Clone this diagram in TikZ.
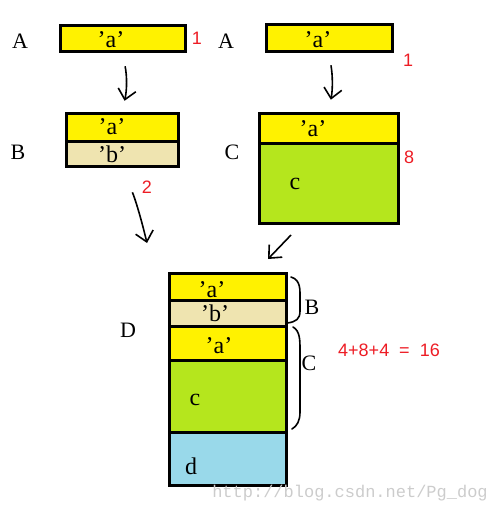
\documentclass[tikz,border=0pt]{standalone}
\usepackage{fontspec}
\setmainfont{Liberation Serif}
\newfontfamily\numfont{Liberation Sans}
\newfontfamily\urlfont{Liberation Mono}
\usetikzlibrary{arrows.meta}

\definecolor{cellyellow}{RGB}{255,242,0}
\definecolor{celltan}{RGB}{239,228,176}
\definecolor{cellgreen}{RGB}{181,230,29}
\definecolor{cellblue}{RGB}{153,217,234}
\definecolor{numred}{RGB}{237,28,36}

\begin{document}
\begin{tikzpicture}[x=0.5pt,y=-0.5pt,
    cell/.style={draw,line width=1.5pt,inner sep=0pt},
    inbox/.style={font=\fontsize{12}{14}\selectfont,inner sep=0pt},
    tag/.style={font=\fontsize{11}{13}\selectfont,inner sep=0pt},
    size/.style={numred,font=\numfont\fontsize{9}{11}\selectfont,inner sep=0pt},
    hand/.style={line width=0.8pt,-{Straight Barb[length=5pt,width=9pt]}},
    brace/.style={line width=0.8pt,line cap=round}]
  \useasboundingbox (0,0) rectangle (496,513);

  % A alone
  \node[tag] (tA1) at (20,41) {A};
  \node[cell,fill=cellyellow,minimum width=62.5pt,minimum height=13pt] (a1) at (122.5,39) {};
  \node[inbox] (ta1) at (111,40) {’a’};
  \node[size] (s1) at (197,38) {1};

  \node[tag] (tA2) at (226,41) {A};
  \node[cell,fill=cellyellow,minimum width=63pt,minimum height=13.5pt] (a2) at (329,38.5) {};
  \node[inbox] (ta2) at (318,40) {’a’};
  \node[size] (s2) at (408,60) {1};

  % B = a + b
  \node[tag] (tB) at (18,152) {B};
  \node[cell,fill=cellyellow,minimum width=56pt,minimum height=14pt] (ba) at (122,128) {};
  \node[cell,fill=celltan,minimum width=56pt,minimum height=12.5pt] (bb) at (122,154.5) {};
  \node[inbox] (tba) at (112,127) {’a’};
  \node[inbox] (tbb) at (112,154) {’b’};
  \node[size] (s3) at (147,187) {2};

  % C = a + c
  \node[tag] (tC) at (232,152) {C};
  \node[cell,fill=cellyellow,minimum width=69.5pt,minimum height=15pt] (ca) at (328.5,129) {};
  \node[cell,fill=cellgreen,minimum width=69.5pt,minimum height=39.5pt] (cc) at (328.5,183.5) {};
  \node[inbox] (tca) at (313,129) {’a’};
  \node[inbox] (tcc) at (295,184) {c};
  \node[size] (s4) at (409,157) {8};

  % D = B + C + d
  \node[tag] (tD) at (128,330) {D};
  \node[cell,fill=cellyellow,minimum width=58.5pt,minimum height=13.5pt] (da) at (227.5,286.5) {};
  \node[cell,fill=celltan,minimum width=58.5pt,minimum height=13pt] (db) at (227.5,313) {};
  \node[cell,fill=cellyellow,minimum width=58.5pt,minimum height=17pt] (dca) at (227.5,343) {};
  \node[cell,fill=cellgreen,minimum width=58.5pt,minimum height=36pt] (dcc) at (227.5,396) {};
  \node[cell,fill=cellblue,minimum width=58.5pt,minimum height=26.5pt] (dd) at (227.5,458.5) {};
  \node[inbox] (tda) at (212,290) {’a’};
  \node[inbox] (tdb) at (215,313) {’b’};
  \node[inbox] (tdca) at (219,346) {’a’};
  \node[inbox] (tdcc) at (195,400) {c};
  \node[inbox] (tdd) at (191,466) {d};

  \draw[brace] (291,277) .. controls (301,280) and (300,290) .. (300,300)
    -- (300,311) .. controls (300,319) and (296,322) .. (287,323);
  \draw[brace] (293,327) .. controls (300,331) and (300,340) .. (300,350)
    -- (300,412) .. controls (300,421) and (297,426) .. (292,429);
  \node[tag] (tBb) at (312,307) {B};
  \node[tag] (tCb) at (309,363) {C};
  \node[size] (sum) at (389,350) {4+8+4\ \ =\ \ 16};

  % arrows
  \coordinate (dinB) at (147,243);
  \coordinate (coutC) at (291,235);
  \coordinate (dinC) at (268,259);
  \draw[hand,shorten <=6.5pt,shorten >=6pt] (a1.south) to[bend left=12] (ba.north);
  \draw[hand,shorten <=6pt,shorten >=6.5pt] (a2.south) to[bend left=10] (ca.north);
  \draw[hand,shorten <=13pt] (bb.south) to[bend left=5] (dinB);
  \draw[hand] (coutC) -- (dinC);

  \node[font=\urlfont\fontsize{8.5}{10}\selectfont,text=black!20,inner sep=0pt] (wm) at (350,493) {http://blog.csdn.net/Pg\_dog};
\end{tikzpicture}
\end{document}
